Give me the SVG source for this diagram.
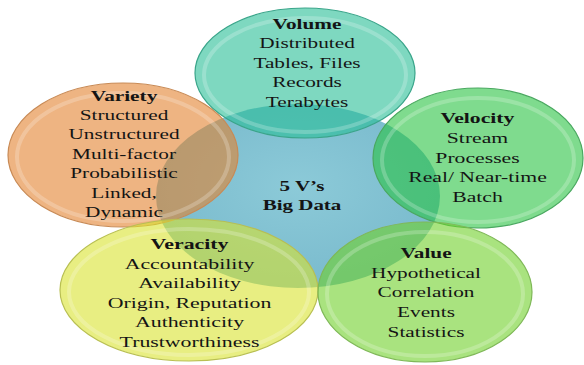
<svg xmlns="http://www.w3.org/2000/svg" width="584" height="365" viewBox="0 0 584 365">
<style>
.t{font-family:'Liberation Serif','DejaVu Serif',serif;font-size:14px;fill:#141414;text-anchor:middle}
.b{font-weight:bold}
.ring{fill:none;stroke:#ffffff;stroke-opacity:0.22;stroke-width:4}
.edge{stroke-width:1.2}
</style>
<defs>
<radialGradient id="gBlue" cx="50%" cy="45%" r="60%">
<stop offset="0" stop-color="#8ccad8"/>
<stop offset="1" stop-color="#78b9cc"/>
</radialGradient>
</defs>
<g id="center">
<ellipse cx="298" cy="196" rx="142" ry="92" fill="url(#gBlue)"/>
</g>
<g id="volume">
<ellipse class="edge" cx="305" cy="73" rx="110" ry="65" fill="rgb(40,190,150)" fill-opacity="0.6" stroke="#3aa58a"/>
<ellipse class="ring" cx="305" cy="75" rx="101" ry="57"/>
<g class="t" font-family="Liberation Serif, DejaVu Serif, serif" transform="translate(307,0) scale(1.52,1)">
<text class="b" x="0" y="29">Volume</text>
<text x="0" y="48.5">Distributed</text>
<text x="0" y="68">Tables, Files</text>
<text x="0" y="87.5">Records</text>
<text x="0" y="107">Terabytes</text>
</g>
</g>
<g id="variety">
<ellipse class="edge" cx="123" cy="155" rx="115" ry="72" fill="rgb(227,130,47)" fill-opacity="0.6" stroke="#c88a55"/>
<ellipse class="ring" cx="123" cy="157" rx="106" ry="64"/>
<g class="t" font-family="Liberation Serif, DejaVu Serif, serif" transform="translate(124,0) scale(1.52,1)">
<text class="b" x="0" y="101">Variety</text>
<text x="0" y="120">Structured</text>
<text x="0" y="139.5">Unstructured</text>
<text x="0" y="159">Multi-factor</text>
<text x="0" y="178">Probabilistic</text>
<text x="0" y="198">Linked,</text>
<text x="0" y="217">Dynamic</text>
</g>
</g>
<g id="velocity">
<ellipse class="edge" cx="478" cy="158" rx="105" ry="70" fill="rgb(42,195,67)" fill-opacity="0.6" stroke="#4aa860"/>
<ellipse class="ring" cx="478" cy="160" rx="96" ry="62"/>
<g class="t" font-family="Liberation Serif, DejaVu Serif, serif" transform="translate(477.5,0) scale(1.55,1)">
<text class="b" x="0" y="123">Velocity</text>
<text x="0" y="143">Stream</text>
<text x="0" y="163">Processes</text>
<text x="0" y="182">Real/ Near-time</text>
<text x="0" y="202">Batch</text>
</g>
</g>
<g id="veracity">
<ellipse class="edge" cx="189" cy="290" rx="129" ry="71" fill="rgb(217,227,47)" fill-opacity="0.6" stroke="#b8bf52"/>
<ellipse class="ring" cx="189" cy="292" rx="120" ry="63"/>
<g class="t" font-family="Liberation Serif, DejaVu Serif, serif" transform="translate(189.5,0) scale(1.56,1)">
<text class="b" x="0" y="249">Veracity</text>
<text x="0" y="269">Accountability</text>
<text x="0" y="288">Availability</text>
<text x="0" y="308">Origin, Reputation</text>
<text x="0" y="327">Authenticity</text>
<text x="0" y="347">Trustworthiness</text>
</g>
</g>
<g id="value">
<ellipse class="edge" cx="425" cy="292" rx="107" ry="70" fill="rgb(112,208,42)" fill-opacity="0.6" stroke="#7fb858"/>
<ellipse class="ring" cx="425" cy="294" rx="98" ry="62"/>
<g class="t" font-family="Liberation Serif, DejaVu Serif, serif" transform="translate(426,0) scale(1.52,1)">
<text class="b" x="0" y="258">Value</text>
<text x="0" y="278">Hypothetical</text>
<text x="0" y="297">Correlation</text>
<text x="0" y="317">Events</text>
<text x="0" y="337">Statistics</text>
</g>
</g>
<g id="center-label" class="t b" font-family="Liberation Serif, DejaVu Serif, serif" transform="translate(302,0) scale(1.5,1)">
<text x="0" y="191">5 V’s</text>
<text x="0" y="210">Big Data</text>
</g>
<g id="connectors"/>
</svg>
